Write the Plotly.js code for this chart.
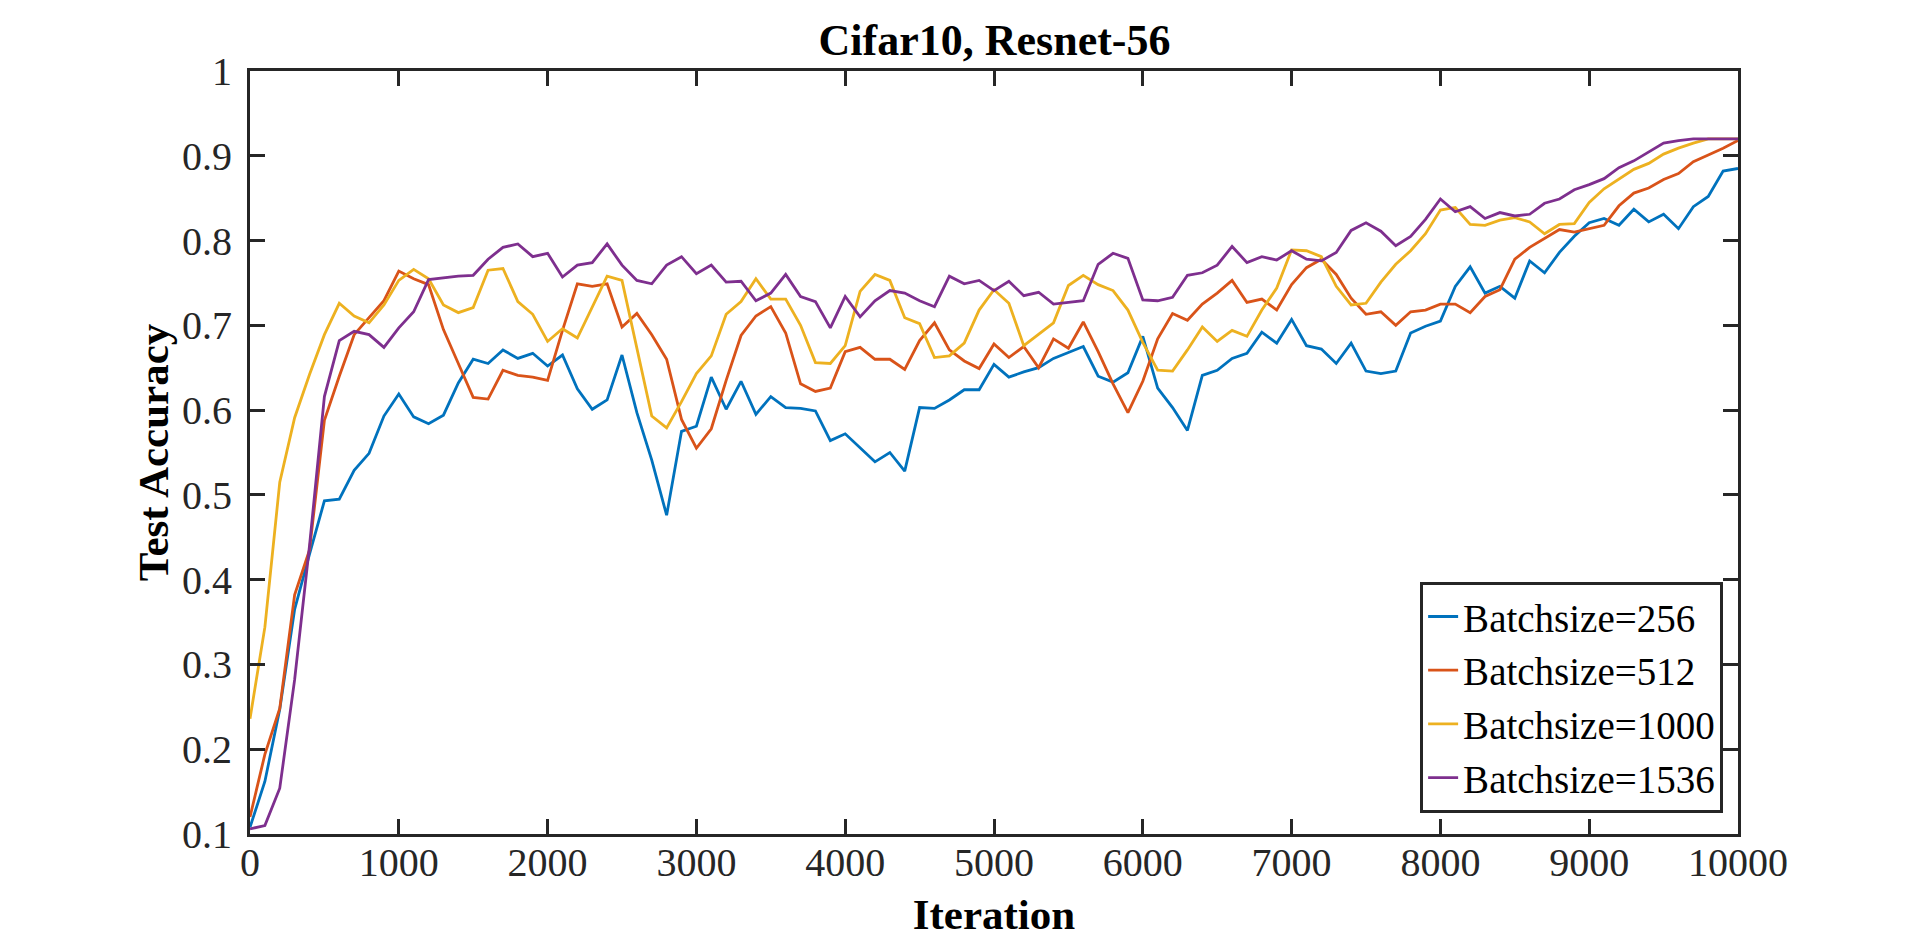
<!DOCTYPE html>
<html>
<head>
<meta charset="utf-8">
<script src="https://cdn.plot.ly/plotly-3.0.1.min.js"></script>
<style>
  html, body { margin: 0; padding: 0; background: #fff; }
  #plot { width: 1920px; height: 938px; }
</style>
</head>
<body>
<div id="plot"></div>
<script>
// iteration (x) values, one point every 100 iterations
let iterations = [
    0, 100, 200, 300, 400, 500, 600, 700, 800, 900,
    1000, 1100, 1200, 1300, 1400, 1500, 1600, 1700, 1800, 1900,
    2000, 2100, 2200, 2300, 2400, 2500, 2600, 2700, 2800, 2900,
    3000, 3100, 3200, 3300, 3400, 3500, 3600, 3700, 3800, 3900,
    4000, 4100, 4200, 4300, 4400, 4500, 4600, 4700, 4800, 4900,
    5000, 5100, 5200, 5300, 5400, 5500, 5600, 5700, 5800, 5900,
    6000, 6100, 6200, 6300, 6400, 6500, 6600, 6700, 6800, 6900,
    7000, 7100, 7200, 7300, 7400, 7500, 7600, 7700, 7800, 7900,
    8000, 8100, 8200, 8300, 8400, 8500, 8600, 8700, 8800, 8900,
    9000, 9100, 9200, 9300, 9400, 9500, 9600, 9700, 9800, 9900,
    10000
];

let acc256 = [
    0.108, 0.162, 0.247, 0.365, 0.430, 0.493, 0.495, 0.529, 0.549, 0.593,
    0.619, 0.592, 0.584, 0.594, 0.632, 0.660, 0.655, 0.671, 0.661, 0.667,
    0.652, 0.665, 0.625, 0.601, 0.612, 0.665, 0.597, 0.541, 0.476, 0.575,
    0.581, 0.639, 0.601, 0.634, 0.595, 0.616, 0.603, 0.602, 0.599, 0.564,
    0.572, 0.556, 0.539, 0.550, 0.528, 0.603, 0.602, 0.612, 0.624, 0.624,
    0.654, 0.639, 0.645, 0.650, 0.661, 0.668, 0.675, 0.640, 0.633, 0.644,
    0.687, 0.626, 0.603, 0.576, 0.641, 0.647, 0.661, 0.667, 0.692, 0.679,
    0.707, 0.676, 0.672, 0.655, 0.679, 0.646, 0.643, 0.646, 0.691, 0.699,
    0.705, 0.746, 0.769, 0.738, 0.746, 0.732, 0.776, 0.762, 0.786, 0.805,
    0.821, 0.826, 0.818, 0.837, 0.822, 0.831, 0.814, 0.840, 0.852, 0.882,
    0.885
];

let acc512 = [
    0.120, 0.194, 0.248, 0.382, 0.435, 0.588, 0.640, 0.689, 0.709, 0.729,
    0.764, 0.755, 0.748, 0.695, 0.655, 0.615, 0.613, 0.647, 0.641, 0.639,
    0.635, 0.694, 0.749, 0.746, 0.749, 0.698, 0.714, 0.689, 0.660, 0.589,
    0.555, 0.578, 0.635, 0.688, 0.711, 0.722, 0.691, 0.631, 0.622, 0.626,
    0.669, 0.674, 0.660, 0.660, 0.648, 0.682, 0.703, 0.671, 0.658, 0.649,
    0.678, 0.662, 0.675, 0.650, 0.684, 0.673, 0.704, 0.669, 0.631, 0.597,
    0.634, 0.684, 0.714, 0.706, 0.725, 0.738, 0.753, 0.727, 0.731, 0.718,
    0.748, 0.768, 0.778, 0.760, 0.732, 0.713, 0.716, 0.700, 0.716, 0.718,
    0.725, 0.725, 0.715, 0.734, 0.742, 0.778, 0.792, 0.803, 0.813, 0.810,
    0.814, 0.818, 0.841, 0.856, 0.862, 0.872, 0.879, 0.893, 0.901, 0.909,
    0.918
];

let acc1000 = [
    0.236, 0.344, 0.515, 0.591, 0.642, 0.689, 0.726, 0.711, 0.703, 0.724,
    0.753, 0.766, 0.755, 0.724, 0.715, 0.721, 0.765, 0.767, 0.728, 0.713,
    0.681, 0.696, 0.685, 0.721, 0.758, 0.753, 0.674, 0.593, 0.579, 0.610,
    0.643, 0.664, 0.713, 0.728, 0.755, 0.731, 0.731, 0.700, 0.656, 0.655,
    0.676, 0.740, 0.760, 0.753, 0.709, 0.702, 0.662, 0.664, 0.679, 0.718,
    0.742, 0.726, 0.676, 0.689, 0.703, 0.747, 0.759, 0.748, 0.741, 0.718,
    0.680, 0.647, 0.646, 0.671, 0.698, 0.681, 0.694, 0.687, 0.718, 0.744,
    0.789, 0.788, 0.781, 0.746, 0.724, 0.726, 0.751, 0.772, 0.788, 0.808,
    0.836, 0.839, 0.819, 0.818, 0.824, 0.827, 0.822, 0.808, 0.819, 0.820,
    0.845, 0.861, 0.873, 0.884, 0.891, 0.902, 0.909, 0.915, 0.920, 0.920,
    0.920
];

let acc1536 = [
    0.106, 0.110, 0.154, 0.282, 0.440, 0.616, 0.682, 0.693, 0.689, 0.674,
    0.697, 0.716, 0.754, 0.756, 0.758, 0.759, 0.778, 0.792, 0.796, 0.781,
    0.785, 0.757, 0.771, 0.774, 0.796, 0.771, 0.753, 0.749, 0.771, 0.781,
    0.761, 0.771, 0.751, 0.752, 0.729, 0.738, 0.760, 0.734, 0.728, 0.697,
    0.734, 0.710, 0.729, 0.741, 0.738, 0.729, 0.722, 0.758, 0.749, 0.753,
    0.741, 0.752, 0.735, 0.739, 0.725, 0.727, 0.729, 0.772, 0.785, 0.779,
    0.730, 0.729, 0.733, 0.759, 0.762, 0.771, 0.793, 0.774, 0.781, 0.777,
    0.788, 0.778, 0.776, 0.786, 0.812, 0.821, 0.811, 0.794, 0.805, 0.825,
    0.849, 0.834, 0.840, 0.826, 0.833, 0.829, 0.831, 0.844, 0.849, 0.860,
    0.866, 0.873, 0.886, 0.894, 0.905, 0.915, 0.918, 0.920, 0.920, 0.920,
    0.920
];

let seriesNames = ["Batchsize=256", "Batchsize=512", "Batchsize=1000", "Batchsize=1536"];
let seriesColors = ["#0072BD", "#D95319", "#EDB120", "#7E2F8E"];
let seriesValues = [acc256, acc512, acc1000, acc1536];

let fontFamily = "'Times New Roman', 'Liberation Serif', serif";
let axisColor = "#262626";

let traces = seriesValues.map((vals, i) => ({
    x: iterations,
    y: vals,
    type: "scatter",
    mode: "lines",
    name: seriesNames[i],
    line: { color: seriesColors[i], width: 2.8 }
}));

let layout = {
    width: 1920,
    height: 938,
    margin: { l: 250, r: 182, t: 71, b: 104 },
    paper_bgcolor: "#fff",
    plot_bgcolor: "#fff",
    font: { family: fontFamily, color: axisColor, size: 39 },
    title: {
        text: "<b>Cifar10, Resnet-56</b>",
        font: { family: fontFamily, size: 44, color: "#000" },
        x: 0.518, xanchor: "center",
        y: 0.958, yanchor: "middle"
    },
    xaxis: {
        title: { text: "<b>Iteration</b>", font: { family: fontFamily, size: 43, color: "#000" }, standoff: 22 },
        range: [0, 10000],
        tickvals: [0, 1000, 2000, 3000, 4000, 5000, 6000, 7000, 8000, 9000, 10000],
        tickformat: "d",
        ticks: "inside", ticklen: 15, tickwidth: 3, tickcolor: axisColor,
        showline: true, linewidth: 3, linecolor: axisColor, mirror: "ticks",
        showgrid: false, zeroline: false,
        ticklabelstandoff: -9,
        tickfont: { family: fontFamily, size: 40, color: axisColor }
    },
    yaxis: {
        title: { text: "<b>Test Accuracy</b>", font: { family: fontFamily, size: 43, color: "#000" }, standoff: 0 },
        range: [0.1, 1],
        tickvals: [0.1, 0.2, 0.3, 0.4, 0.5, 0.6, 0.7, 0.8, 0.9, 1],
        ticktext: ["0.1", "0.2", "0.3", "0.4", "0.5", "0.6", "0.7", "0.8", "0.9", "1"],
        ticks: "inside", ticklen: 15, tickwidth: 3, tickcolor: axisColor,
        showline: true, linewidth: 3, linecolor: axisColor, mirror: "ticks",
        showgrid: false, zeroline: false,
        ticklabelstandoff: 7,
        tickfont: { family: fontFamily, size: 40, color: axisColor }
    },
    showlegend: true,
    legend: {
        x: 0.99, xanchor: "right",
        y: 0.028, yanchor: "bottom",
        bgcolor: "#fff",
        bordercolor: axisColor,
        borderwidth: 3,
        font: { family: fontFamily, size: 39, color: "#000" },
        itemwidth: 30,
        tracegroupgap: 0
    }
};

Plotly.newPlot("plot", traces, layout, { displayModeBar: false, staticPlot: true });
</script>
</body>
</html>
